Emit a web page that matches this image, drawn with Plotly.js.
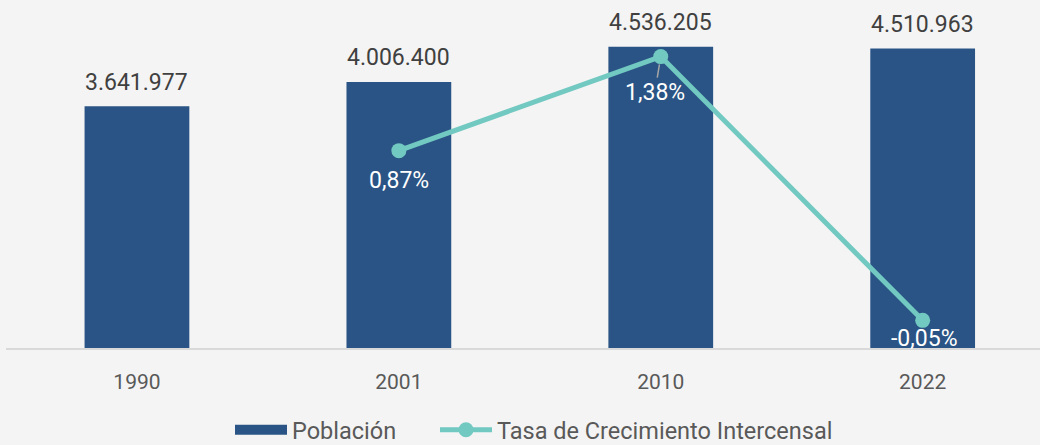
<!DOCTYPE html>
<html>
<head>
<meta charset="utf-8">
<script src="https://cdn.plot.ly/plotly-3.0.1.min.js"></script>
<style>
  html, body { margin: 0; padding: 0; background: #f4f4f4; }
  #chart { width: 1040px; height: 445px; }
</style>
</head>
<body>
<div id="chart"></div>
<script>
// ---- data ----
const years = ["1990", "2001", "2010", "2022"];
const poblacion = [3641977, 4006400, 4536205, 4510963];
const poblacionLabels = ["3.641.977", "4.006.400", "4.536.205", "4.510.963"];
const tasaYears = ["2001", "2010", "2022"];
const tasa = [0.87, 1.38, -0.05];
const tasaLabels = ["0,87%", "1,38%", "-0,05%"];
const seriesNames = ["Población", "Tasa de Crecimiento Intercensal"];

// ---- style ----
const barColor = "#2a5485";
const lineColor = "#72c9c1";
const FONT = "Roboto, 'DejaVu Sans', sans-serif";
const labelShift = [-30, -36, -18];   // px offset of rate labels below the markers
const labelDx = [0, -6, 2];
const labelArrow = [false, true, false];

const traces = [
  {
    type: "bar",
    x: years,
    y: poblacion,
    name: seriesNames[0],
    marker: { color: barColor },
    width: 0.4,
    showlegend: false
  },
  {
    // legend entry for the bars (wide rectangle key)
    type: "scatter",
    mode: "lines",
    x: [null],
    y: [null],
    name: seriesNames[0],
    line: { color: barColor, width: 13 },
    legendwidth: 138,
    showlegend: true,
    hoverinfo: "skip"
  },
  {
    type: "scatter",
    mode: "lines+markers",
    x: tasaYears,
    y: tasa,
    yaxis: "y2",
    name: seriesNames[1],
    line: { color: lineColor, width: 5 },
    marker: { color: lineColor, size: 15 },
    cliponaxis: false
  }
];

const annotations = [];
years.forEach((yr, i) => {
  annotations.push({
    x: years.indexOf(yr), y: poblacion[i], xref: "x", yref: "y",
    text: poblacionLabels[i], showarrow: false,
    yanchor: "middle", yshift: 24,
    font: { family: FONT, size: 23, color: "#404040" }
  });
});
tasaYears.forEach((yr, i) => {
  const xi = years.indexOf(yr);
  if (labelArrow[i]) {
    annotations.push({
      x: xi, y: tasa[i], xref: "x", yref: "y2",
      text: tasaLabels[i], showarrow: true,
      ax: labelDx[i], ay: -labelShift[i], axref: "pixel", ayref: "pixel",
      arrowhead: 0, arrowwidth: 1.5, arrowcolor: "#a6a6a6", standoff: 8,
      font: { family: FONT, size: 23, color: "#ffffff" }
    });
  } else {
    annotations.push({
      x: xi, y: tasa[i], xref: "x", yref: "y2",
      text: tasaLabels[i], showarrow: false,
      xshift: labelDx[i], yanchor: "middle", yshift: labelShift[i],
      font: { family: FONT, size: 23, color: "#ffffff" }
    });
  }
});

const layout = {
  width: 1040,
  height: 445,
  paper_bgcolor: "#f4f4f4",
  plot_bgcolor: "#f4f4f4",
  margin: { l: 6, r: 0, t: 16, b: 97 },
  font: { family: FONT, size: 21, color: "#595959" },
  xaxis: {
    type: "category",
    range: [-0.5, 3.448],
    showline: true,
    linecolor: "#d9d9d9",
    linewidth: 1.5,
    showgrid: false,
    zeroline: false,
    ticks: "",
    ticklabelstandoff: 14,
    tickfont: { family: FONT, size: 21, color: "#595959" }
  },
  yaxis: {
    range: [0, 5000000],
    visible: false,
    showgrid: false,
    zeroline: false
  },
  yaxis2: {
    range: [-0.2, 1.6],
    overlaying: "y",
    side: "right",
    visible: false,
    showgrid: false,
    zeroline: false
  },
  showlegend: true,
  legend: {
    orientation: "h",
    xref: "container",
    yref: "container",
    x: 230 / 1040,
    xanchor: "left",
    y: 15 / 445,
    yanchor: "middle",
    itemwidth: 52,
    bgcolor: "rgba(0,0,0,0)",
    font: { family: FONT, size: 23.5, color: "#595959" },
    traceorder: "normal"
  },
  annotations: annotations
};

Plotly.newPlot("chart", traces, layout, { displayModeBar: false, staticPlot: true });
</script>
</body>
</html>
